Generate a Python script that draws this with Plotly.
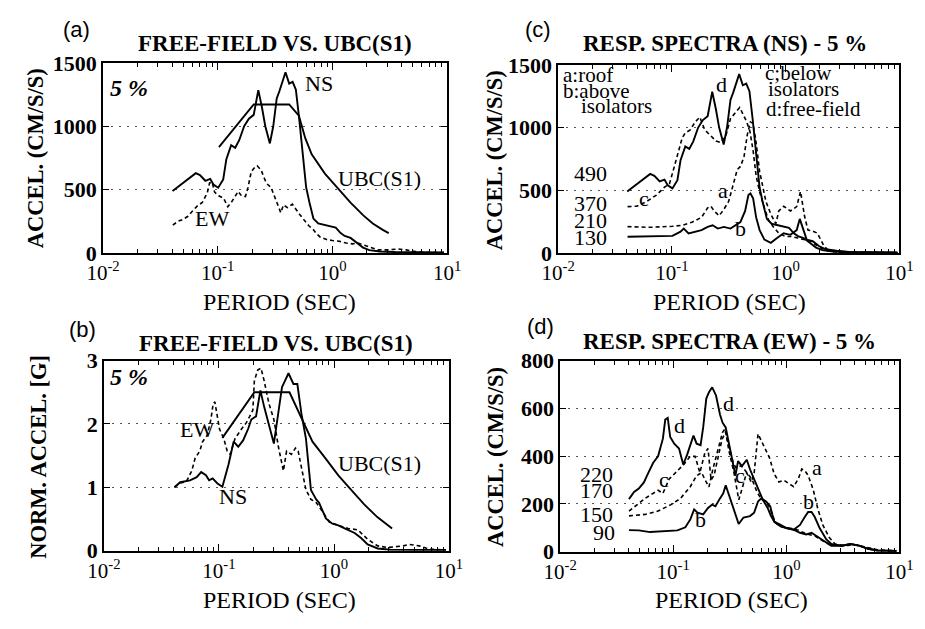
import plotly.graph_objects as go

# ---------------------------------------------------------------- data
# Free-field NS response spectrum, 5 % damping (cm/s/s)
FREE_NS_T = [0.0404, 0.0497, 0.0644, 0.0700, 0.0780, 0.0860, 0.0918, 0.1010, 0.1117, 0.1190,
             0.1310, 0.1420, 0.1540, 0.1700, 0.1870, 0.2060, 0.2260, 0.2430, 0.2600, 0.2850,
             0.3050, 0.3270, 0.3460, 0.3900, 0.4200, 0.4500, 0.4800, 0.5120, 0.5460, 0.5900,
             0.6300, 0.6830, 0.7520, 0.8570, 0.9750, 1.0700, 1.1800, 1.2800, 1.4400, 1.6300,
             1.8500, 2.1000, 2.6000, 3.5000, 5.0000, 7.0000, 9.4000]
FREE_NS_A = [490, 550, 630, 615, 570, 585, 540, 515, 580, 740,
             850, 830, 890, 1000, 1060, 1090, 1285, 1150, 1000, 865,
             1000, 1220, 1280, 1426, 1337, 1350, 1290, 1070, 800, 520,
             400, 272, 233, 220, 208, 200, 157, 135, 119, 81,
             43, 23, 12, 8, 6, 5, 4]

# Free-field EW response spectrum, 5 % damping (cm/s/s)
FREE_EW_T = [0.0406, 0.0450, 0.0496, 0.0550, 0.0603, 0.0665, 0.0734, 0.0810, 0.0850, 0.0894,
             0.0940, 0.1020, 0.1125, 0.1225, 0.1325, 0.1510, 0.1610, 0.1745, 0.1840, 0.1960,
             0.2070, 0.2210, 0.2390, 0.2590, 0.2730, 0.2910, 0.3150, 0.3430, 0.3550, 0.3740,
             0.4050, 0.4470, 0.4770, 0.5190, 0.5620, 0.6200, 0.6840, 0.7300, 0.7850, 0.8900,
             1.0000, 1.1600, 1.3200, 1.5000, 1.6700, 1.8400, 2.1000, 2.5000, 3.1000, 3.7000,
             4.4000, 5.3000, 6.4000, 9.4000]
FREE_EW_A = [220, 250, 264, 290, 331, 372, 399, 473, 553, 560,
             480, 452, 432, 365, 405, 486, 452, 446, 520, 641,
             668, 688, 654, 574, 540, 520, 439, 345, 318, 379,
             358, 385, 345, 304, 264, 217, 183, 150, 125, 106,
             99, 92, 79, 72, 79, 66, 45, 25, 25, 32,
             25, 12, 5, 3]

# UBC (S1) design spectrum (cm/s/s)
UBC_T = [0.1025, 0.206, 0.420, 0.510, 0.580, 0.660, 0.860, 1.110, 1.440, 1.860, 2.250, 2.750, 3.100]
UBC_A = [835, 1172, 1172, 1084, 906, 779, 627, 513, 398, 297, 233, 183, 157]

# Normalised spectra (spectral accel. / peak ground accel.)
NORM_NS_T = [0.041, 0.046, 0.056, 0.064, 0.070, 0.077, 0.082, 0.088, 0.097, 0.107,
             0.121, 0.134, 0.147, 0.162, 0.179, 0.191, 0.210, 0.229, 0.247, 0.300,
             0.353, 0.402, 0.444, 0.480, 0.520, 0.570, 0.630, 0.700, 0.740, 0.850,
             0.960, 1.090, 1.250, 1.510, 1.720, 1.960, 2.400, 3.100, 5.900, 9.400]
NORM_NS_G = [1.00, 1.08, 1.11, 1.16, 1.24, 1.19, 1.11, 1.14, 1.06, 1.01,
             1.36, 1.72, 1.64, 1.74, 1.92, 2.07, 2.12, 2.53, 2.27, 1.69,
             2.58, 2.80, 2.63, 2.63, 2.17, 1.77, 0.96, 0.81, 0.76, 0.51,
             0.43, 0.40, 0.35, 0.28, 0.20, 0.10, 0.035, 0.015, 0.01, 0.01]

NORM_EW_T = [0.041, 0.046, 0.052, 0.058, 0.062, 0.068, 0.072, 0.079, 0.085, 0.089,
             0.092, 0.097, 0.101, 0.110, 0.118, 0.125, 0.138, 0.157, 0.173, 0.185,
             0.197, 0.203, 0.217, 0.232, 0.247, 0.272, 0.300, 0.330, 0.363, 0.387,
             0.426, 0.463, 0.488, 0.535, 0.570, 0.630, 0.700, 0.800, 0.910, 1.090,
             1.330, 1.610, 1.960, 2.400, 2.900, 4.000, 4.500, 5.500, 6.700, 9.400]
NORM_EW_G = [1.00, 1.07, 1.09, 1.26, 1.46, 1.57, 1.72, 1.82, 2.07, 2.32,
             2.35, 2.12, 1.92, 1.77, 1.57, 1.52, 1.77, 1.92, 2.02, 2.12,
             2.22, 2.68, 2.85, 2.88, 2.68, 2.32, 2.07, 1.62, 1.26, 1.57,
             1.52, 1.62, 1.57, 1.21, 0.96, 0.81, 0.76, 0.61, 0.45, 0.40,
             0.35, 0.33, 0.18, 0.076, 0.05, 0.076, 0.10, 0.076, 0.025, 0.01]

NORM_UBC_T = [0.107, 0.203, 0.410, 0.540, 0.650, 0.840, 1.090, 1.410, 1.830, 2.380, 3.200]
NORM_UBC_G = [1.78, 2.50, 2.50, 2.02, 1.72, 1.46, 1.19, 0.96, 0.73, 0.53, 0.35]

# NS spectra at the building: a roof, b above isolators, c below isolators
NS_ROOF_T = [0.0407, 0.064, 0.101, 0.123, 0.150, 0.182, 0.206, 0.220, 0.235, 0.260,
             0.286, 0.315, 0.350, 0.375, 0.400, 0.430, 0.460, 0.490, 0.515, 0.546,
             0.590, 0.630, 0.670, 0.740, 0.820, 0.870, 0.960, 1.100, 1.250, 1.350,
             1.470, 1.570, 1.730, 1.900, 2.170, 2.390, 3.000, 5.000, 9.500]
NS_ROOF_A = [210, 205, 213, 221, 246, 284, 360, 373, 335, 297,
             348, 411, 563, 665, 690, 766, 944, 1045, 1033, 900,
             650, 520, 411, 310, 234, 335, 373, 335, 370, 490,
             287, 183, 175, 158, 56, 18, 10, 5, 3]

NS_ABOVE_T = [0.0407, 0.064, 0.101, 0.119, 0.127, 0.140, 0.160, 0.182, 0.206, 0.228,
              0.253, 0.286, 0.327, 0.360, 0.400, 0.440, 0.470, 0.490, 0.517, 0.550,
              0.590, 0.650, 0.740, 0.840, 0.960, 1.100, 1.250, 1.330, 1.430, 1.530,
              1.730, 1.960, 2.250, 2.800, 4.000, 9.500]
NS_ABOVE_A = [130, 132, 137, 170, 195, 157, 170, 183, 208, 221,
              195, 208, 195, 221, 246, 335, 462, 475, 437, 284,
              183, 107, 81, 119, 158, 145, 183, 272, 183, 107,
              94, 56, 30, 18, 5, 3]

NS_BELOW_T = [0.0407, 0.049, 0.060, 0.073, 0.086, 0.095, 0.105, 0.115, 0.123, 0.131,
              0.145, 0.160, 0.176, 0.194, 0.220, 0.244, 0.270, 0.297, 0.327, 0.360,
              0.394, 0.427, 0.455, 0.485, 0.517, 0.550, 0.590, 0.650, 0.710, 0.780,
              0.870, 0.990, 1.120, 1.280, 1.470, 1.670, 1.900, 2.200, 2.600, 4.400, 9.700]
NS_BELOW_A = [370, 373, 411, 462, 525, 551, 690, 817, 918, 957,
              982, 1045, 1083, 982, 931, 893, 880, 931, 1071, 1121,
              1160, 1096, 1045, 969, 817, 614, 487, 360, 259, 208,
              157, 132, 132, 119, 107, 94, 56, 23, 10, 5, 3]

# EW spectra at the building
EW_ROOF_T = [0.0406, 0.0565, 0.0734, 0.0955, 0.116, 0.141, 0.161, 0.178, 0.196, 0.207,
             0.224, 0.247, 0.273, 0.288, 0.310, 0.344, 0.380, 0.418, 0.445, 0.490,
             0.520, 0.562, 0.620, 0.660, 0.710, 0.780, 0.860, 0.950, 1.050, 1.160,
             1.280, 1.370, 1.460, 1.560, 1.730, 1.900, 2.100, 2.400, 2.700, 3.300,
             4.000, 4.900, 6.400, 9.400]
EW_ROOF_A = [150, 156, 170, 197, 223, 271, 318, 331, 291, 271,
             345, 425, 500, 515, 425, 331, 217, 284, 331, 291,
             331, 493, 452, 419, 393, 326, 292, 299, 286, 272,
             306, 346, 339, 319, 259, 179, 112, 59, 32, 25,
             29, 19, 8, 3]

EW_ABOVE_T = [0.0406, 0.0496, 0.0624, 0.0838, 0.109, 0.128, 0.142, 0.153, 0.164, 0.184,
              0.203, 0.221, 0.236, 0.259, 0.277, 0.291, 0.311, 0.343, 0.379, 0.418,
              0.477, 0.519, 0.562, 0.600, 0.662, 0.720, 0.780, 0.890, 1.000, 1.160,
              1.320, 1.460, 1.560, 1.670, 1.780, 1.970, 2.250, 2.500, 3.100, 3.700,
              4.400, 5.300, 6.400, 9.400]
EW_ABOVE_A = [90, 89, 82, 86, 89, 102, 136, 177, 163, 156,
              183, 197, 190, 223, 244, 278, 237, 170, 116, 143,
              149, 163, 210, 223, 210, 190, 126, 112, 99, 92,
              112, 146, 166, 166, 146, 99, 52, 32, 25, 32,
              25, 12, 5, 3]

EW_BELOW_T = [0.0406, 0.0565, 0.0734, 0.081, 0.092, 0.109, 0.124, 0.141, 0.156, 0.172,
              0.190, 0.203, 0.216, 0.230, 0.250, 0.270, 0.290, 0.310, 0.340, 0.360,
              0.400, 0.450, 0.500, 0.550, 0.600, 0.660, 0.720, 0.800, 0.900, 1.000,
              1.200, 1.500, 1.800, 2.100, 2.500, 3.100, 3.700, 4.400, 5.300, 6.400, 9.400]
EW_BELOW_A = [170, 223, 257, 244, 304, 338, 365, 399, 399, 331,
              412, 432, 300, 320, 400, 470, 500, 440, 370, 350,
              360, 330, 300, 250, 220, 210, 180, 120, 105, 100,
              95, 75, 65, 45, 27, 25, 32, 25, 12, 5, 3]

# ---------------------------------------------------------------- styling
W, H = 925, 629
SERIF = "Liberation Serif"
SANS = "Liberation Sans"
SOLID = dict(color="black", width=1.9)
DASHED = dict(color="black", width=1.6, dash="4px,3px")


def px_x(p):
    return p / W


def px_y(p):
    return 1 - p / H


# panel frames in pixels: (left, right, top, bottom)
FRAMES = {
    1: (89, 445, 53, 251),     # (a)
    2: (90, 447, 363, 561),    # (b)
    3: (560, 913, 55, 251),    # (c)
    4: (562, 913, 363, 562),   # (d)
}
YRANGES = {1: [0, 1500], 2: [0, 3], 3: [0, 1500], 4: [0, 800]}
YTICKS = {1: [0, 500, 1000, 1500], 2: [0, 1, 2, 3], 3: [0, 500, 1000, 1500], 4: [0, 200, 400, 600, 800]}

MAJOR = [0.01, 0.1, 1, 10]
MINOR = [k * 10.0 ** e for e in (-2, -1, 0) for k in range(2, 10)]

fig = go.Figure()


def add(n, x, y, style):
    sfx = "" if n == 1 else str(n)
    fig.add_trace(go.Scatter(x=x, y=y, mode="lines", line=style, showlegend=False,
                             hoverinfo="skip", xaxis="x" + sfx, yaxis="y" + sfx))


# (a) free field vs UBC
add(1, FREE_NS_T, FREE_NS_A, SOLID)
add(1, FREE_EW_T, FREE_EW_A, DASHED)
add(1, UBC_T, UBC_A, SOLID)
# (b) normalised
add(2, NORM_NS_T, NORM_NS_G, SOLID)
add(2, NORM_EW_T, NORM_EW_G, DASHED)
add(2, NORM_UBC_T, NORM_UBC_G, SOLID)
# (c) NS building spectra
add(3, FREE_NS_T, FREE_NS_A, SOLID)
add(3, NS_BELOW_T, NS_BELOW_A, DASHED)
add(3, NS_ROOF_T, NS_ROOF_A, DASHED)
add(3, NS_ABOVE_T, NS_ABOVE_A, SOLID)
# (d) EW building spectra
add(4, FREE_EW_T, FREE_EW_A, SOLID)
add(4, EW_BELOW_T, EW_BELOW_A, DASHED)
add(4, EW_ROOF_T, EW_ROOF_A, DASHED)
add(4, EW_ABOVE_T, EW_ABOVE_A, SOLID)

layout = dict(
    width=W, height=H, margin=dict(l=0, r=0, t=0, b=0),
    paper_bgcolor="white", plot_bgcolor="white", showlegend=False,
)

for n, (l, r, t, b) in FRAMES.items():
    sfx = "" if n == 1 else str(n)
    top = str(n + 4)
    common_x = dict(
        type="log", range=[-2, 1], domain=[px_x(l), px_x(r)],
        ticks="inside", ticklen=7, tickwidth=1.3, tickcolor="black", tickvals=MAJOR,
        minor=dict(ticks="inside", ticklen=4, tickwidth=1.1, tickcolor="black",
                   tickvals=MINOR, showgrid=False),
        showgrid=False, zeroline=False, fixedrange=True,
    )
    layout["xaxis" + sfx] = dict(
        common_x, anchor="y" + sfx,
        showline=True, linecolor="black", linewidth=1.7, mirror=True,
        ticktext=["10<sup>-2</sup>", "10<sup>-1</sup>", "10<sup>0</sup>", "10<sup>1</sup>"],
        tickfont=dict(family=SERIF, size=21, color="black"),
    )
    # companion axis carrying the tick marks along the top edge
    layout["xaxis" + top] = dict(
        common_x, anchor="y" + sfx, overlaying="x" + sfx, side="top",
        showline=False, showticklabels=False,
    )
    layout["yaxis" + sfx] = dict(
        range=YRANGES[n], domain=[px_y(b), px_y(t)], anchor="x" + sfx,
        showline=True, linecolor="black", linewidth=1.7, mirror="ticks",
        ticks="inside", ticklen=6, tickwidth=1.3, tickcolor="black",
        tickvals=YTICKS[n],
        tickfont=dict(family=SERIF, size=22, color="black", weight="bold"),
        showgrid=True, gridcolor="#555555", griddash="2px,6px", gridwidth=1.2,
        zeroline=False, fixedrange=True,
    )
    fig.add_trace(go.Scatter(x=[], y=[], mode="lines", showlegend=False, hoverinfo="skip",
                             xaxis="x" + top, yaxis="y" + sfx))

ann = []


def text(px, py, s, size=22, family=SERIF, bold=False, italic=False, angle=0,
         xanchor="center"):
    ann.append(dict(
        x=px_x(px), y=px_y(py), xref="paper", yref="paper", text=s, showarrow=False,
        xanchor=xanchor, yanchor="middle", textangle=angle,
        font=dict(family=family, size=size, color="black",
                  weight="bold" if bold else "normal",
                  style="italic" if italic else "normal"),
    ))


# panel letters
text(62, 18, "(a)", size=22, family=SANS)
text(68, 331, "(b)", size=22, family=SANS)
text(539, 18, "(c)", size=22, family=SANS)
text(542, 327, "(d)", size=22, family=SANS)

# panel titles
text(267, 33, "FREE-FIELD VS. UBC(S1)", size=23, bold=True)
text(268, 345, "FREE-FIELD VS. UBC(S1)", size=23, bold=True)
text(733, 33, "RESP. SPECTRA (NS) - 5 %", size=23, bold=True)
text(737, 343, "RESP. SPECTRA (EW) - 5 %", size=23, bold=True)

# axis titles
for cx, cy in [(272, 302), (272, 612), (737, 302), (739, 612)]:
    text(cx, cy, "PERIOD (SEC)", size=24)
text(20, 152, "ACCEL. (CM/S/S)", size=22.5, bold=True, angle=-90)
text(22, 463, "NORM. ACCEL. [G]", size=22.5, bold=True, angle=-90)
text(494, 154, "ACCEL. (CM/S/S)", size=22.5, bold=True, angle=-90)
text(495, 463, "ACCEL. (CM/S/S)", size=22.5, bold=True, angle=-90)

# (a) labels
text(94, 79, "5 %", size=24, bold=True, italic=True, xanchor="left")
text(312, 74, "NS", size=22)
text(375, 173, "UBC(S1)", size=22)
text(202, 215, "EW", size=22)

# (b) labels
text(94, 380, "5 %", size=24, bold=True, italic=True, xanchor="left")
text(186, 435, "EW", size=22)
text(224, 505, "NS", size=22)
text(375, 470, "UBC(S1)", size=22)

# (c) key and labels
text(563, 66, "a:roof", size=21, xanchor="left")
text(563, 82, "b:above", size=21, xanchor="left")
text(581, 98, "isolators", size=21, xanchor="left")
text(772, 64, "c;below", size=21, xanchor="left")
text(775, 80, "isolators", size=21, xanchor="left")
text(773, 101, "d:free-field", size=21, xanchor="left")
text(729, 75, "d", size=22)
text(649, 194, "c", size=22)
text(730, 186, "a", size=22)
text(749, 225, "b", size=22)
text(593, 168, "490", size=22)
text(593, 199, "370", size=22)
text(593, 217, "210", size=22)
text(593, 235, "130", size=22)

# (d) labels
text(685, 431, "d", size=22)
text(736, 408, "d", size=22)
text(669, 487, "c", size=22)
text(748, 483, "c", size=22)
text(707, 528, "b", size=22)
text(828, 474, "a", size=22)
text(819, 510, "b", size=22)
text(600, 482, "220", size=22)
text(600, 498, "170", size=22)
text(600, 523, "150", size=22)
text(607, 542, "90", size=22)

layout["annotations"] = ann
fig.update_layout(**layout)
fig.write_html("out.html")
